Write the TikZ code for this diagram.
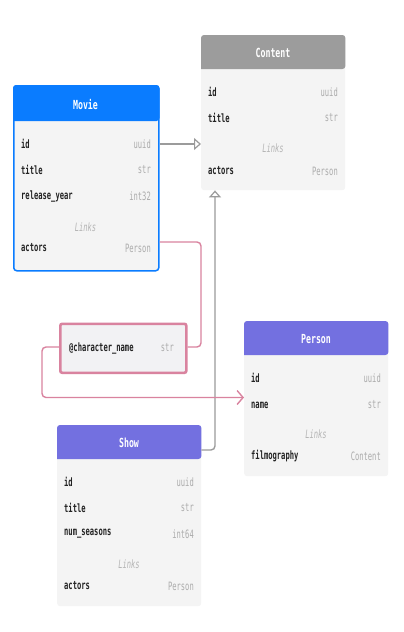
\documentclass[tikz,border=0pt]{standalone}
\usepackage{fontspec}
\usetikzlibrary{arrows.meta,calc}
\newfontfamily\cond[FakeStretch=0.62]{DejaVu Sans Mono}
\newfontfamily\condh[FakeStretch=0.66]{DejaVu Sans Mono}
\definecolor{bodyc}{HTML}{F4F4F4}
\definecolor{moviec}{HTML}{0A7CFF}
\definecolor{contentc}{HTML}{9C9C9C}
\definecolor{purplec}{HTML}{7370E0}
\definecolor{namec}{HTML}{222222}
\definecolor{typec}{HTML}{ABABAB}
\definecolor{linkc}{HTML}{B4B4B4}
\definecolor{grayline}{HTML}{9B9B9B}
\definecolor{pinkc}{HTML}{D9839F}
\definecolor{linkbody}{HTML}{F2F2F4}
\tikzset{
  tbl/.style={rectangle, rounded corners=3pt, fill=bodyc, inner sep=0pt, anchor=north west},
  hdrtext/.style={text=white, font=\condh\bfseries\fontsize{12.5}{14}\selectfont, inner sep=0pt},
  fname/.style={text=namec, font=\cond\bfseries\fontsize{11.5}{13}\selectfont, inner sep=0pt, anchor=west},
  ftype/.style={text=typec, font=\cond\fontsize{11.5}{13}\selectfont, inner sep=0pt, anchor=east},
  flinks/.style={text=linkc, font=\cond\itshape\fontsize{11.5}{13}\selectfont, inner sep=0pt},
  inherit/.style={draw=grayline, line width=1.4pt, rounded corners=4pt, -{Triangle[open, length=7pt, width=12pt, line width=1.2pt]}},
  linkline/.style={draw=pinkc, line width=1.4pt, rounded corners=4pt},
}
\begin{document}
\begin{tikzpicture}[x=1pt,y=-1pt]
\useasboundingbox[fill=white] (0,0) rectangle (404,632);

% ---------- Content ----------
\node[tbl, minimum width=144pt, minimum height=155pt] (content) at (201,35) {};
\fill[contentc] ([yshift=-34pt]content.north west) [rounded corners=3pt] |- (content.north) -| ([yshift=-34pt]content.north east) [sharp corners] -- cycle;
\node[hdrtext] (content-h) at (273,53) {Content};
\node[fname] (content-id) at (208,92) {id};
\node[ftype] (content-idt) at (338,92) {uuid};
\node[fname] (content-title) at (208,118) {title};
\node[ftype] (content-titlet) at (338,118) {str};
\node[flinks] (content-links) at (273,148) {Links};
\node[fname] (content-actors) at (208,171) {actors};
\node[ftype] (content-actorst) at (338,171) {Person};

% ---------- Movie ----------
\node[tbl, minimum width=145pt, minimum height=185pt, draw=moviec, line width=1.5pt] (movie) at (13,85) {};
\fill[moviec] ([yshift=-36pt]movie.north west) [rounded corners=3pt] |- (movie.north) -| ([yshift=-36pt]movie.north east) [sharp corners] -- cycle;
\node[hdrtext] (movie-h) at (85.5,105) {Movie};
\node[fname] (movie-id) at (21,144) {id};
\node[ftype] (movie-idt) at (151,144) {uuid};
\node[fname] (movie-title) at (21,170) {title};
\node[ftype] (movie-titlet) at (151,170) {str};
\node[fname] (movie-year) at (21,196) {release\_year};
\node[ftype] (movie-yeart) at (151,196) {int32};
\node[flinks] (movie-links) at (85.5,227) {Links};
\node[fname] (movie-actors) at (21,248) {actors};
\node[ftype] (movie-actorst) at (151,248) {Person};

% ---------- Person ----------
\node[tbl, minimum width=144pt, minimum height=155pt] (person) at (244,321) {};
\fill[purplec] ([yshift=-34pt]person.north west) [rounded corners=3pt] |- (person.north) -| ([yshift=-34pt]person.north east) [sharp corners] -- cycle;
\node[hdrtext] (person-h) at (316,339) {Person};
\node[fname] (person-id) at (251,378) {id};
\node[ftype] (person-idt) at (381,378) {uuid};
\node[fname] (person-name) at (251,405) {name};
\node[ftype] (person-namet) at (381,405) {str};
\node[flinks] (person-links) at (316,434) {Links};
\node[fname] (person-film) at (251,456) {filmography};
\node[ftype] (person-filmt) at (381,456) {Content};

% ---------- Show ----------
\node[tbl, minimum width=144pt, minimum height=181pt] (show) at (57,425) {};
\fill[purplec] ([yshift=-34pt]show.north west) [rounded corners=3pt] |- (show.north) -| ([yshift=-34pt]show.north east) [sharp corners] -- cycle;
\node[hdrtext] (show-h) at (129,443) {Show};
\node[fname] (show-id) at (64,482) {id};
\node[ftype] (show-idt) at (194,482) {uuid};
\node[fname] (show-title) at (64,508) {title};
\node[ftype] (show-titlet) at (194,508) {str};
\node[fname] (show-seasons) at (64,534) {num\_seasons};
\node[ftype] (show-seasonst) at (194,534) {int64};
\node[flinks] (show-links) at (129,564) {Links};
\node[fname] (show-actors) at (64,586) {actors};
\node[ftype] (show-actorst) at (194,586) {Person};

% ---------- link property ----------
\node[rectangle, rounded corners=2pt, fill=linkbody, draw=pinkc, line width=2.6pt, minimum width=126pt, minimum height=49pt, inner sep=0pt, anchor=north west] (lprop) at (59,322.5) {};
\node[fname] (lprop-name) at (69,348) {@character\_name};
\node[ftype] (lprop-type) at (174,348) {str};

% ---------- connectors ----------
\coordinate (c1) at (215,450);
\draw[inherit] (movie-idt -| movie.east) -- (movie-idt -| content.west);
\draw[inherit] (show.east |- c1) -- (c1) -- (c1 |- content.south);

\coordinate (p1) at (201,242);
\coordinate (p2) at (201,347);
\coordinate (p3) at (42,347);
\coordinate (p4) at (42,397.5);
\draw[linkline] (movie.east |- p1) -- (p1) -- (p2) -- (lprop.east |- p2);
\draw[linkline, -{Straight Barb[length=6pt, width=14pt, line width=1.4pt]}] (lprop.west |- p3) -- (p3) -- (p4) -- (person.west |- p4);
\end{tikzpicture}
\end{document}
